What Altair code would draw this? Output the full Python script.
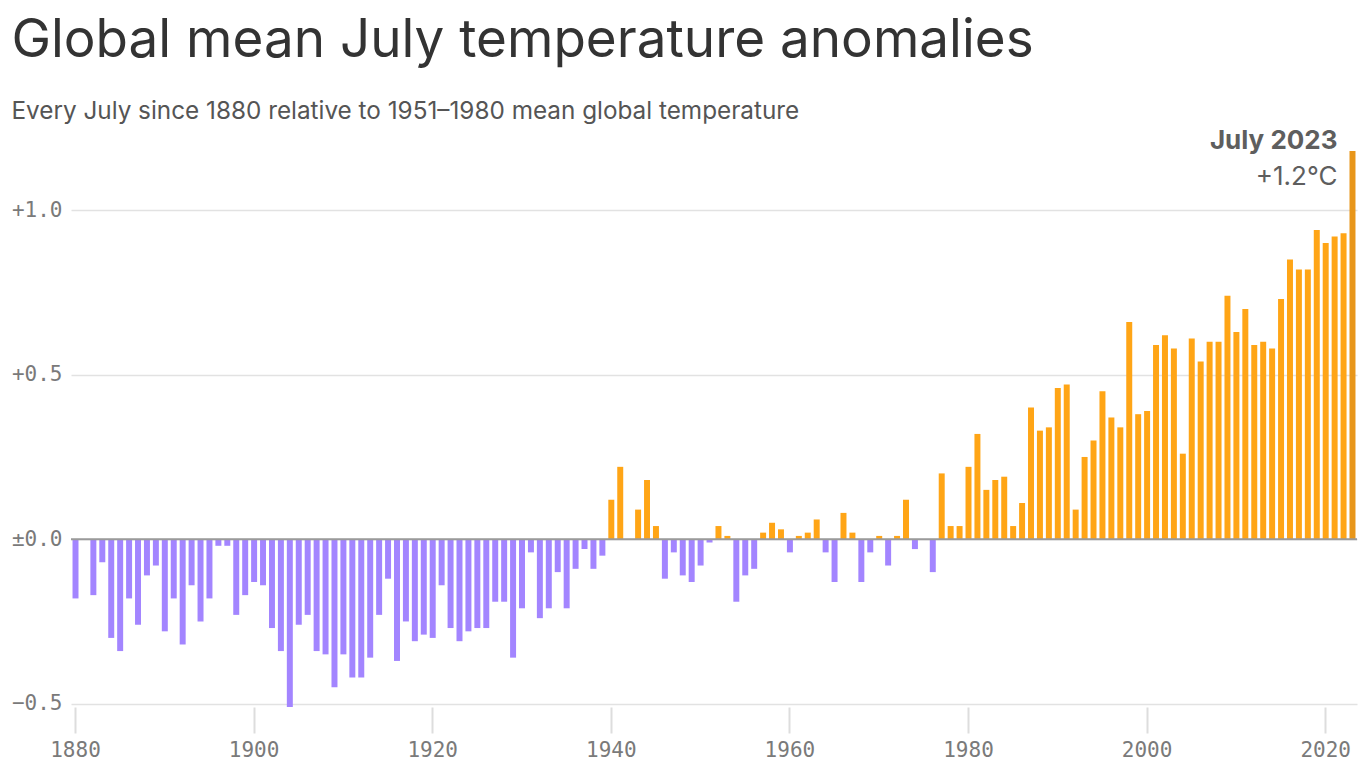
import altair as alt
import pandas as pd

years = list(range(1880, 2024))
anomalies = [
    -0.18, 0.00, -0.17, -0.07, -0.30, -0.34, -0.18, -0.26, -0.11, -0.08,   # 1880s
    -0.28, -0.18, -0.32, -0.14, -0.25, -0.18, -0.02, -0.02, -0.23, -0.17,  # 1890s
    -0.13, -0.14, -0.27, -0.34, -0.51, -0.26, -0.23, -0.34, -0.35, -0.45,  # 1900s
    -0.35, -0.42, -0.42, -0.36, -0.23, -0.12, -0.37, -0.25, -0.31, -0.29,  # 1910s
    -0.30, -0.14, -0.27, -0.31, -0.28, -0.27, -0.27, -0.19, -0.19, -0.36,  # 1920s
    -0.21, -0.04, -0.24, -0.21, -0.10, -0.21, -0.09, -0.03, -0.09, -0.05,  # 1930s
    0.12, 0.22, 0.00, 0.09, 0.18, 0.04, -0.12, -0.04, -0.11, -0.13,        # 1940s
    -0.08, -0.01, 0.04, 0.01, -0.19, -0.11, -0.09, 0.02, 0.05, 0.03,       # 1950s
    -0.04, 0.01, 0.02, 0.06, -0.04, -0.13, 0.08, 0.02, -0.13, -0.04,       # 1960s
    0.01, -0.08, 0.01, 0.12, -0.03, 0.00, -0.10, 0.20, 0.04, 0.04,         # 1970s
    0.22, 0.32, 0.15, 0.18, 0.19, 0.04, 0.11, 0.40, 0.33, 0.34,            # 1980s
    0.46, 0.47, 0.09, 0.25, 0.30, 0.45, 0.37, 0.34, 0.66, 0.38,            # 1990s
    0.39, 0.59, 0.62, 0.58, 0.26, 0.61, 0.54, 0.60, 0.60, 0.74,            # 2000s
    0.63, 0.70, 0.59, 0.60, 0.58, 0.73, 0.85, 0.82, 0.82, 0.94,            # 2010s
    0.90, 0.92, 0.93, 1.18,                                                # 2020s
]
x_tick_years = [1880, 1900, 1920, 1940, 1960, 1980, 2000, 2020]
y_ticks = [-0.5, 0.0, 0.5, 1.0]
title_text = "Global mean July temperature anomalies"
subtitle_text = "Every July since 1880 relative to 1951–1980 mean global temperature"
note_year = "July 2023"
note_value = "+1.2°C"

groups = []
for y, v in zip(years, anomalies):
    if y == years[-1]:
        groups.append("latest")
    elif v >= 0:
        groups.append("pos")
    else:
        groups.append("neg")

df = pd.DataFrame({"year": years, "anomaly": anomalies, "group": groups})
note_df = pd.DataFrame({"year": [years[-1]], "anomaly": [anomalies[-1]],
                        "l1": [note_year], "l2": [note_value]})

mono = "DejaVu Sans Mono"
ydom = [-0.51, 1.18]

x_enc = alt.X(
    "year:O",
    scale=alt.Scale(paddingInner=0.33, paddingOuter=0.17),
    axis=alt.Axis(
        values=x_tick_years, title=None, labelAngle=0, grid=False, domain=False,
        ticks=True, tickSize=26, tickColor="#dddddd", tickWidth=2,
        labelFont=mono, labelFontSize=21, labelColor="#7a7a7a", labelPadding=6,
    ),
)
y_enc = alt.Y(
    "anomaly:Q",
    scale=alt.Scale(domain=ydom, nice=False, zero=False),
    axis=alt.Axis(
        values=y_ticks, title=None, domain=False, ticks=False, grid=True,
        gridColor="#e2e2e2", gridWidth=1.5,
        labelFont=mono, labelFontSize=21, labelColor="#7a7a7a", labelPadding=9,
        labelExpr="datum.value > 0 ? '+' + format(datum.value, '.1f') : (datum.value == 0 ? '±0.0' : '−' + format(-datum.value, '.1f'))",
    ),
)

bars = alt.Chart(df).mark_bar().encode(
    x=x_enc,
    y=y_enc,
    y2=alt.datum(0),
    color=alt.Color(
        "group:N",
        scale=alt.Scale(domain=["neg", "pos", "latest"],
                        range=["#a385ff", "#ffa516", "#e8961a"]),
        legend=None,
    ),
)

zero = alt.Chart(pd.DataFrame({"z": [0.0]})).mark_rule(
    color="#9a9a9a", strokeWidth=2
).encode(y=alt.Y("z:Q", scale=alt.Scale(domain=ydom, nice=False, zero=False)))

note1 = alt.Chart(note_df).mark_text(
    align="right", baseline="middle", dx=-15, dy=-10,
    font="Inter", fontSize=26, fontWeight="bold", color="#5e5e5e",
).encode(x="year:O", y="anomaly:Q", text="l1:N")

note2 = alt.Chart(note_df).mark_text(
    align="right", baseline="middle", dx=-15, dy=26,
    font="Inter", fontSize=26, fontWeight="normal", color="#5e5e5e",
).encode(x="year:O", y="anomaly:Q", text="l2:N")

chart = alt.layer(bars, zero, note1, note2).properties(
    width=1286,
    height=556,
    padding={"left": 3, "top": 6, "right": 0, "bottom": 0},
    title=alt.TitleParams(
        text=title_text,
        subtitle=subtitle_text,
        anchor="start",
        frame="bounds",
        font="Inter",
        fontSize=53,
        fontWeight="normal",
        color="#333333",
        subtitleFont="Inter",
        subtitleFontSize=24.3,
        subtitleColor="#555555",
        subtitlePadding=32,
        offset=4,
    ),
).configure(
    background="white",
    view=alt.ViewConfig(stroke="transparent", strokeWidth=0),
)

chart.save("out.html", embed_options={"renderer": "svg", "actions": False})
